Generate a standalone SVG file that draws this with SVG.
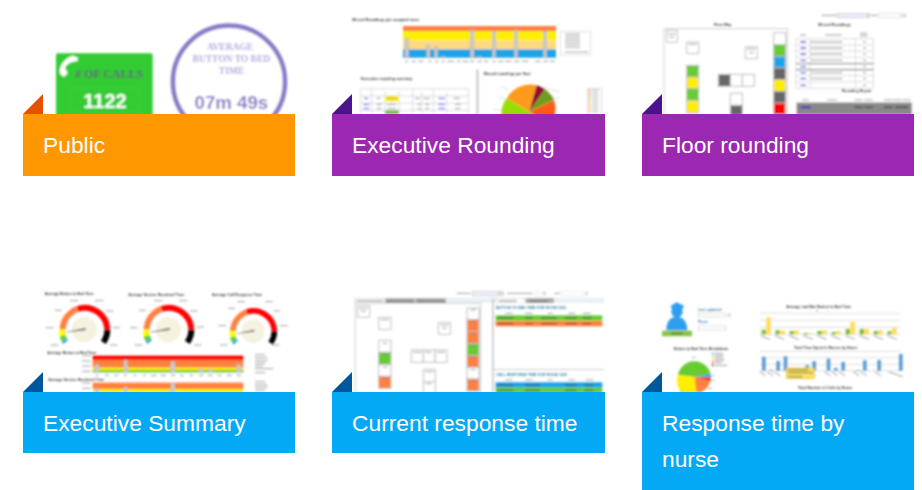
<svg xmlns="http://www.w3.org/2000/svg" width="922" height="490" viewBox="0 0 922 490">
<style>
.sans{font-family:"Liberation Sans",Arial,sans-serif}
.serif{font-family:"Liberation Serif","Times New Roman",serif;font-weight:bold}
.lab{font-family:"Liberation Sans",Arial,sans-serif;font-size:22.8px;fill:#fff}
.t{font-family:"Liberation Sans",Arial,sans-serif;font-size:11px;font-weight:bold;fill:#333}
.tb{font-family:"Liberation Sans",Arial,sans-serif;font-size:11px;font-weight:bold;fill:#2f7fa8}
.room{fill:#fff;stroke:#bbb;stroke-width:3}
.bar{fill:#ccc;stroke:#999;stroke-width:1}
.line{stroke:#bbb;stroke-width:1.5;fill:none}
.ph{stroke:#888;stroke-width:2.5}
.arc{fill:none;stroke-width:18}
.pur{fill:#9c27b0}.blu{fill:#03a9f4}
.dpur{fill:#4a148c}.dblu{fill:#01579b}
</style>
<defs>
<filter id="b" x="-5%" y="-5%" width="110%" height="110%"><feGaussianBlur stdDeviation="2.4"/></filter>
<filter id="c" x="-5%" y="-5%" width="110%" height="110%"><feGaussianBlur stdDeviation="2.4"/></filter>
<g id="gauge">
<path class="arc" stroke="#ff8040" d="M128,134A68,68 0 0 1 172,72"/>
<path class="arc" stroke="#ff0000" d="M172,72A68,68 0 0 1 262,134"/>
<path class="arc" stroke="#000" d="M262,134A68,68 0 0 1 250,172"/>
<path class="arc" stroke="#ffff00" d="M126,134A68,68 0 0 0 128,152"/>
<path class="arc" stroke="#66cc33" d="M128,152A68,68 0 0 0 133,166"/>
<path class="arc" stroke="#1aa3e8" d="M133,166A68,68 0 0 0 137,171"/>
<circle cx="193" cy="134" r="38" fill="#f5f2e0"/>
<path d="M197,129L125,144L197,135Z" fill="#555"/>
</g>
</defs>

<g id="public">
<g transform="translate(20,10) scale(.33333)" filter="url(#c)">
<rect x="108" y="130" width="290" height="200" rx="5" fill="#33cc33"/>
<path d="M174,143L158,137C135,144 117,165 119,190L131,201L143,190L135,173C140,164 148,158 156,156L172,153Z" fill="#fff"/>
<text class="serif" x="165" y="205" font-size="36" fill="#5f5f78">
# OF CALLS</text>
<rect x="151" y="235" width="208" height="72" fill="none" stroke="#4fc94f" stroke-width="2"/>
<text class="sans" x="255" y="295" font-size="60" font-weight="bold" fill="#fff" text-anchor="middle">1122</text>
<circle cx="627" cy="215" r="168" fill="#fff" stroke="#8a7cc8" stroke-width="14"/>
<g class="serif" font-size="28.5" fill="#b3a6dc" text-anchor="middle">
<text x="630" y="119">AVERAGE</text><text x="634" y="155">BUTTON TO BED</text><text x="634" y="191">TIME</text></g>
<text class="sans" x="634" y="297" font-size="56" font-weight="bold" fill="#8a7cc8" text-anchor="middle">07m 49s</text>
</g>
<path d="M23,114L43,94V114Z" fill="#e65100"/>
<rect x="23" y="114" width="272" height="62" fill="#ff9800"/>
<text class="lab" x="43" y="153">Public</text>
</g>

<g id="executive-rounding">
<g transform="translate(330,10) scale(.33333)" filter="url(#b)">
<text class="t" x="67" y="32">Missed Roundings per occupied room</text>
<rect x="219" y="48" width="459" height="16" fill="#ff8040"/>
<rect x="219" y="64" width="459" height="28" fill="#ffee00"/>
<rect x="219" y="92" width="459" height="26" fill="#ffd980"/>
<rect x="219" y="118" width="459" height="25" fill="#1aa3e8"/>
<rect class="bar" x="225" y="85" width="11" height="58"/><rect class="bar" x="290" y="105" width="10" height="38"/><rect class="bar" x="313" y="110" width="10" height="33"/><rect class="bar" x="334" y="139" width="11" height="4"/><rect class="bar" x="421" y="60" width="11" height="83"/><rect class="bar" x="443" y="139" width="11" height="4"/><rect class="bar" x="487" y="63" width="10" height="80"/><rect class="bar" x="553" y="60" width="10" height="83"/><rect class="bar" x="640" y="63" width="10" height="80"/>
<rect x="692" y="65" width="90" height="70" fill="#fff" stroke="#ccc" stroke-width="2"/>
<path class="ph" d="M705,72H750M705,80H750M705,88H750M705,96H750M705,104H750M705,112H750M705,126H775"/>
<path class="ph" d="M225,154H235M245,154H258M265,154H280M295,154H305M315,154H325M335,154H345M352,154H372M380,154H392M397,154H415M420,154H432M442,154H455M462,154H475M487,154H497M505,154H520M525,154H545M552,154H568M575,154H595M615,154H632M640,154H655M660,154H675"/>
<text class="t" x="93" y="211">Executive rounding summary</text>
<path class="line" fill="none" d="M92,236H415M92,258H415M92,280H415M92,301H415M92,236V312M125,236V312M248,236V312M310,236V312M415,236V312M165,245V312M207,245V312M275,245V312M350,245V312"/>
<rect x="166" y="258" width="40" height="16" fill="#ffee00"/><rect x="166" y="302" width="40" height="10" fill="#66bb33"/>
<path stroke="#55f" stroke-width="3" d="M102,265H115M100,283H118M100,296H118M325,265H345M325,283H345M325,296H345"/>
<path class="ph" d="M140,265H152M172,265H200M255,265H270M280,265H300M140,283H155M172,283H198M262,283H272M285,283H298M370,265H390M375,283H392M140,296H155M172,296H198M262,296H272M285,296H298M375,296H392"/>
<rect x="440" y="178" width="5" height="136" fill="#bbb"/>
<text class="t" x="461" y="196">Missed roundings per floor</text>
<path fill="#ff9a1a" d="M598,305L530,265A82,82 0 0 1 620,226Z"/>
<path fill="#8b0a30" d="M598,305L620,226A82,82 0 0 1 645,238Z"/>
<path fill="#6e9e1f" d="M598,305L645,238A82,82 0 0 1 672,270Z"/>
<path fill="#ff5a14" d="M598,305L672,270A82,82 0 0 1 660,345Z"/>
<path fill="#99dd00" d="M598,305L660,345H520A82,82 0 0 1 530,265Z"/>
<path class="line" d="M512,228L535,240M505,262L528,268M690,245L665,240L640,232M690,263L670,265M490,300H516"/>
<rect x="772" y="235" width="43" height="80" fill="#fff" stroke="#ccc" stroke-width="2"/>
<path stroke="#e85" stroke-width="5" d="M776,241H782M776,250H782M776,259H782"/><path stroke="#bc3" stroke-width="5" d="M776,268H782M776,277H782"/><path stroke="#fa3" stroke-width="5" d="M776,286H782M776,295H782M776,304H782"/>
<path class="ph" d="M786,241H805M786,250H805M786,259H805M786,268H805M786,277H805M786,286H805M786,295H805M786,304H805"/>
</g>
<path class="dpur" d="M332,114L352,94V114Z"/>
<rect class="pur" x="332" y="114" width="273" height="62"/>
<text class="lab" x="352" y="153">Executive Rounding</text>
</g>

<g id="floor-rounding">
<g transform="translate(640,10) scale(.33333)" filter="url(#b)">
<path class="ph" d="M545,16H590"/><rect x="593" y="10" width="78" height="13" fill="#eef" stroke="#bbb" stroke-width="2"/><rect x="678" y="10" width="11" height="13" fill="#ddd" stroke="#999"/><path class="ph" d="M692,16H712"/><rect x="716" y="10" width="65" height="13" fill="#fff" stroke="#ccc" stroke-width="2"/><rect x="785" y="10" width="14" height="13" fill="#ddd"/>
<text class="t" x="222" y="49" font-size="12">Floor Map</text>
<rect x="72" y="56" width="370" height="270" fill="#fff" stroke="#ccc" stroke-width="3"/>
<rect class="room" x="80" y="61" width="32" height="36"/><rect class="room" x="140" y="96" width="36" height="35"/><rect class="room" x="316" y="110" width="36" height="36"/>
<path class="ph" d="M85,72H107M88,82H102M146,103H170M321,117H347M327,128H341"/>
<rect class="room" x="140" y="166" width="36" height="35" style="fill:#66cc33"/><rect class="room" x="140" y="201" width="36" height="35" style="fill:#ffee00"/><rect class="room" x="140" y="236" width="36" height="35" style="fill:#66cc33"/><rect class="room" x="140" y="271" width="36" height="38" style="fill:#ffee00"/>
<rect class="room" x="235" y="193" width="36" height="36" style="fill:#666"/><rect class="room" x="271" y="193" width="36" height="36"/><rect class="room" x="307" y="193" width="36" height="36"/>
<rect class="room" x="271" y="250" width="36" height="36"/><rect class="room" x="271" y="286" width="36" height="30" style="fill:#666"/>
<rect class="room" x="401" y="68" width="36" height="36"/><rect class="room" x="401" y="104" width="36" height="35" style="fill:#66cc33"/><rect class="room" x="401" y="139" width="36" height="35" style="fill:#1aa3e8"/><rect class="room" x="401" y="174" width="36" height="35" style="fill:#666"/><rect class="room" x="401" y="209" width="36" height="35" style="fill:#ffee00"/><rect class="room" x="401" y="244" width="36" height="35" style="fill:#666"/><rect class="room" x="401" y="279" width="36" height="35" style="fill:#f00"/>
<text class="t" x="535" y="49" font-size="12">Missed Roundings</text>
<path class="ph" d="M480,75H498M555,75H605M660,70H682M660,78H682"/>
<path class="line" d="M468,86H700M468,105H700M468,123H700M468,142H700M468,179H700M468,197H700M468,216H700M468,235H700M468,86V235M510,86V235M646,86V235M700,86V235"/>
<path stroke="#888" stroke-width="3" d="M468,161H700M468,179H700"/>
<path stroke="#66d" stroke-width="4" d="M481,96H498M481,114H498M481,132H498M481,151H498M481,170H498M481,188H498M481,206H498M481,226H498"/>
<path stroke="#888" stroke-width="4" stroke-dasharray="5 3" d="M513,96H606M513,114H606M513,132H606M513,151H606M513,188H606M513,206H606"/>
<path stroke="#888" stroke-width="3" d="M670,96H678M670,114H678M670,132H678M670,151H678M670,170H678M670,188H678M670,206H678M670,226H678"/>
<text class="t" x="605" y="246" font-size="12">Rounding Report</text>
<path class="ph" d="M487,270H507M562,270H590M643,270H668M673,270H698M732,270H758M760,270H785M788,270H812"/>
<rect x="470" y="278" width="345" height="36" fill="#888"/>
<path stroke="#22c" stroke-width="5" d="M482,292H512"/><path stroke="#333" stroke-width="4" d="M643,292H668M673,292H698M732,292H758M765,292H805"/>
</g>
<path class="dpur" d="M642,114L662,94V114Z"/>
<rect class="pur" x="642" y="114" width="272" height="62"/>
<text class="lab" x="662" y="153">Floor rounding</text>
</g>

<g id="executive-summary">
<g transform="translate(20,285) scale(.33333)" filter="url(#b)">
<text class="t" x="74" y="30">Average Button to Bed Time</text>
<text class="t" x="325" y="32">Average Service Rendered Time</text>
<text class="t" x="576" y="34">Average Call Response Time</text>
<use href="#gauge"/><use href="#gauge" x="252"/><use href="#gauge" transform="translate(700,137) scale(.93) translate(-194,-132)"/>
<path class="ph" d="M150,47H175M225,47H250M105,76H125M258,78H280M78,128H100M278,128H300M92,180H115M270,180H292M402,47H427M477,47H502M357,76H377M510,78H532M330,128H352M530,126H552M344,180H367M522,180H544M652,50H675M735,50H758M625,70H645M760,78H780M596,122H618M780,122H803M600,180H622M755,180H778"/>
<text class="t" x="82" y="206">Average Button to Bed Time</text>
<path class="ph" d="M186,212H212M186,228H212M186,243H212M186,259H212"/>
<rect x="218" y="212" width="452" height="13" fill="#f00"/><rect x="218" y="225" width="452" height="23" fill="#ff8040"/><rect x="218" y="248" width="452" height="7" fill="#ffee00"/><rect x="218" y="255" width="452" height="7" fill="#66cc33"/>
<rect class="bar" x="225" y="238" width="12" height="24"/><rect class="bar" x="312" y="225" width="11" height="37"/><rect class="bar" x="452" y="230" width="13" height="32"/><rect class="bar" x="537" y="252" width="13" height="10"/><rect class="bar" x="565" y="253" width="13" height="9"/><rect class="bar" x="650" y="238" width="13" height="24"/>
<path class="ph" d="M228,271H235M255,271H267M283,271H295M312,271H320M340,271H348M370,271H378M392,271H410M422,271H438M452,271H465M480,271H492M508,271H520M537,271H550M563,271H578M592,271H605M620,271H635M650,271H663"/>
<path class="ph" d="M705,209H735M705,218H742M705,227H742M705,235H735M705,243H730M705,251H760M705,263H735"/>
<text class="t" x="85" y="288">Average Service Rendered Time</text>
<path class="ph" d="M186,294H212M186,310H212"/>
<rect x="218" y="293" width="452" height="19" fill="#ff8040"/><rect x="218" y="312" width="452" height="12" fill="#ffee00"/>
<rect class="bar" x="225" y="310" width="12" height="14"/><rect class="bar" x="312" y="306" width="11" height="18"/><rect class="bar" x="452" y="296" width="13" height="28"/>
<path class="ph" d="M705,290H735M705,299H742M705,307H742M705,316H735"/>
</g>
<path class="dblu" d="M23,392L43,372V392Z"/>
<rect class="blu" x="23" y="392" width="272" height="61"/>
<text class="lab" x="43" y="431">Executive Summary</text>
</g>

<g id="current-response-time">
<g transform="translate(330,285) scale(.33333)" filter="url(#b)">
<path class="ph" d="M380,25H422"/><rect x="427" y="20" width="78" height="11" fill="#eef" stroke="#bbb" stroke-width="2"/><rect x="509" y="20" width="11" height="11" fill="#ddd" stroke="#999"/><path class="ph" d="M532,25H608"/><rect x="618" y="20" width="13" height="11" fill="#fff" stroke="#ccc"/><rect x="637" y="20" width="11" height="11" fill="#ddd"/><path class="ph" d="M673,25H690"/><rect x="694" y="20" width="65" height="11" fill="#fff" stroke="#ccc"/><rect x="764" y="20" width="11" height="11" fill="#ddd"/>
<rect x="72" y="38" width="750" height="16" fill="#eaf0f6"/>
<rect x="76" y="40" width="88" height="15" fill="#fff" stroke="#bbb"/><rect x="166" y="40" width="88" height="15" fill="#aaa"/><rect x="256" y="40" width="92" height="15" fill="#aaa"/>
<path stroke="#555" stroke-width="2.5" d="M80,48H160M170,48H250M260,48H344"/>
<rect x="76" y="55" width="376" height="270" fill="#fff" stroke="#ccc" stroke-width="3"/>
<rect class="room" x="83" y="62" width="36" height="35"/><rect class="room" x="146" y="97" width="37" height="36"/><rect class="room" x="325" y="112" width="36" height="36"/>
<path class="ph" d="M88,70H114M92,79H108M152,104H177M330,120H356M337,130H350"/>
<rect class="room" x="146" y="166" width="37" height="36"/><rect class="room" x="146" y="202" width="37" height="37" style="fill:#66cc33"/><rect class="room" x="146" y="239" width="37" height="35"/><rect class="room" x="146" y="274" width="37" height="36" style="fill:#ff8040"/>
<rect class="room" x="244" y="195" width="36" height="37"/><rect class="room" x="280" y="195" width="35" height="37"/><rect class="room" x="315" y="195" width="36" height="37"/>
<rect class="room" x="280" y="253" width="36" height="37"/><rect class="room" x="280" y="290" width="36" height="35"/>
<rect class="room" x="411" y="69" width="36" height="35"/><rect class="room" x="411" y="104" width="36" height="36" style="fill:#ff8040"/><rect class="room" x="411" y="140" width="36" height="36" style="fill:#ff8040"/><rect class="room" x="411" y="176" width="36" height="36" style="fill:#66cc33"/><rect class="room" x="411" y="212" width="36" height="35" style="fill:#ff8040"/><rect class="room" x="411" y="247" width="36" height="35"/><rect class="room" x="411" y="282" width="36" height="36" style="fill:#ff8040"/>
<path class="ph" d="M249,202H275M286,202H304M321,202H345M285,260H311M287,296H305M421,75H437M421,110H437M421,146H437M421,182H437M421,218H437M421,254H437M421,289H437M158,175H172M158,210H172M158,246H172M158,281H172"/>
<rect x="487" y="38" width="4" height="287" fill="#bbb"/>
<rect x="487" y="252" width="335" height="3" fill="#ccc"/>
<rect x="500" y="40" width="85" height="14" fill="#fff" stroke="#bbb"/><rect x="587" y="40" width="85" height="14" fill="#aaa"/>
<path stroke="#555" stroke-width="2.5" d="M506,48H560M596,48H655"/>
<text class="tb" x="498" y="71">BUTTON TO BED TIME FOR ROOM 1203</text>
<path class="ph" d="M525,85H548M585,85H608M653,85H668M715,85H735M758,85H782"/>
<rect x="497" y="91" width="320" height="16" fill="#66cc33"/><rect x="497" y="108" width="320" height="16" fill="#ff8040"/>
<path stroke="#444" stroke-width="3" d="M502,99H550M585,99H608M633,99H680M705,99H740M758,99H784M502,116H550M585,116H608M633,116H680M705,116H740M758,116H784"/>
<text class="tb" x="498" y="272">CALL RESPONSE TIME FOR ROOM 1203</text>
<path class="ph" d="M525,285H548M585,285H608M653,285H668M715,285H735M767,285H790"/>
<rect x="497" y="292" width="320" height="16" fill="#1aa3e8"/><rect x="497" y="308" width="320" height="16" fill="#66cc33"/>
<path stroke="#444" stroke-width="3" d="M502,300H550M585,300H630M705,300H740M763,300H790M502,316H550M585,316H630M705,316H740M763,316H790"/>
</g>
<path class="dblu" d="M332,392L352,372V392Z"/>
<rect class="blu" x="332" y="392" width="273" height="61"/>
<text class="lab" x="352" y="431">Current response time</text>
</g>

<g id="response-time-by-nurse">
<g transform="translate(640,285) scale(.33333)" filter="url(#b)">
<path fill="#2f9fef" d="M92,62L110,52L132,62L128,72H96ZM79,136C79,105 95,95 110,95C125,95 142,105 142,136Z"/>
<circle cx="111" cy="80" r="17" fill="#2f9fef"/>
<rect x="66" y="137" width="90" height="17" fill="#8bc34a"/>
<path stroke="#444" stroke-width="3" d="M94,145H128"/>
<text class="tb" x="174" y="77">Last updated:</text>
<rect x="175" y="85" width="82" height="11" fill="#fff" stroke="#ccc" stroke-width="2"/><rect x="262" y="85" width="11" height="11" fill="#ddd"/>
<text class="tb" x="174" y="115">Floor:</text>
<rect x="175" y="123" width="83" height="12" fill="#fff" stroke="#ccc" stroke-width="2"/>
<text class="t" x="439" y="69">Average and Max Button to Bed Time</text>
<path stroke="#66aa33" stroke-width="3" d="M528,77H533"/><path stroke="#ffd54f" stroke-width="3" d="M561,77H566"/>
<path class="line" d="M360,85H780M360,106H780M360,127H780M360,148H780"/>
<path fill="#7cbb33" d="M365,134h13v14h-13zM406,136h13v12h-13zM449,138h13v10h-13zM491,144h13v4h-13zM532,138h14v10h-14zM575,141h13v7h-13zM617,132h13v16h-13zM659,132h13v16h-13zM701,138h13v10h-13zM742,139h13v9h-13z"/>
<path fill="#ffdb58" d="M379,97h13v51h-13zM420,136h14v12h-14zM463,136h13v12h-13zM505,145h13v3h-13zM547,136h13v12h-13zM589,138h13v10h-13zM631,111h14v37h-14zM673,132h14v16h-14zM715,136h13v12h-13zM756,129h14v19h-14z"/>
<path class="ph" d="M390,163L362,152M433,163L405,152M476,163L448,152M518,163L490,152M560,163L532,152M602,163L574,152M645,163L617,152M687,163L659,152M729,163L701,152M770,163L742,152"/>
<text class="t" x="462" y="192">Total Time Spent in Rooms by Nurse</text>
<path class="line" d="M360,199H785M360,218H785M360,238H785M360,257H785"/>
<path fill="#5b9bd5" d="M366,215h11v42h-11zM388,254h11v3h-11zM409,228h11v29h-11zM431,214h11v43h-11zM496,241h11v16h-11zM517,229h11v28h-11zM560,221h11v36h-11zM582,249h11v8h-11zM604,231h11v26h-11zM647,255h11v2h-11zM669,226h11v31h-11zM712,225h11v32h-11zM777,207h11v50h-11z"/>
<path class="ph" d="M377,272L358,260M399,272L380,260M420,272L401,260M485,272L466,260M507,272L488,260M528,272L509,260M571,272L552,260M593,272L574,260M615,272L596,260M658,272L639,260M680,272L661,260M723,272L704,260M788,275L745,260"/>
<rect x="439" y="249" width="83" height="32" fill="#fbe35c" stroke="#e5b93a" stroke-width="2"/>
<path stroke="#555" stroke-width="2.5" d="M444,255H505M444,263H518M444,275H487"/>
<text class="t" x="474" y="313">Total Number of Calls by Nurse</text>
<text class="t" x="102" y="196">Button to Bed Time Breakdown</text>
<path stroke="#1aa3e8" stroke-width="4" d="M216,205H221"/><path stroke="#66cc33" stroke-width="4" d="M216,212H221"/><path stroke="#ffee00" stroke-width="4" d="M216,219H221"/><path stroke="#ff8040" stroke-width="4" d="M216,226H221"/><path stroke="#f00" stroke-width="4" d="M216,233H221"/><path stroke="#000" stroke-width="4" d="M216,241H221"/>
<path class="ph" d="M224,205H250M224,212H250M224,219H250M224,226H253M224,233H245M224,241H262"/>
<path fill="#66cc33" d="M163,276L114,270A50,50 0 0 1 212,268Z"/>
<path fill="#1aa3e8" d="M163,276L212,268A50,50 0 0 1 213,278Z"/>
<path fill="#f00" d="M163,276L213,278A50,50 0 0 1 211,288Z"/>
<path fill="#ff8040" d="M163,276L211,288A50,50 0 0 1 182,322L165,322Z"/>
<path fill="#ffee00" d="M163,276L170,325H128A50,50 0 0 1 114,270Z"/>
<path class="ph" d="M157,217H166M216,271H224M216,287H224M205,311H216M118,319H130"/>
</g>
<path class="dblu" d="M642,392L662,372V392Z"/>
<rect class="blu" x="642" y="392" width="272" height="98"/>
<text class="lab" x="662" y="431">Response time by</text>
<text class="lab" x="662" y="467">nurse</text>
</g>
</svg>
